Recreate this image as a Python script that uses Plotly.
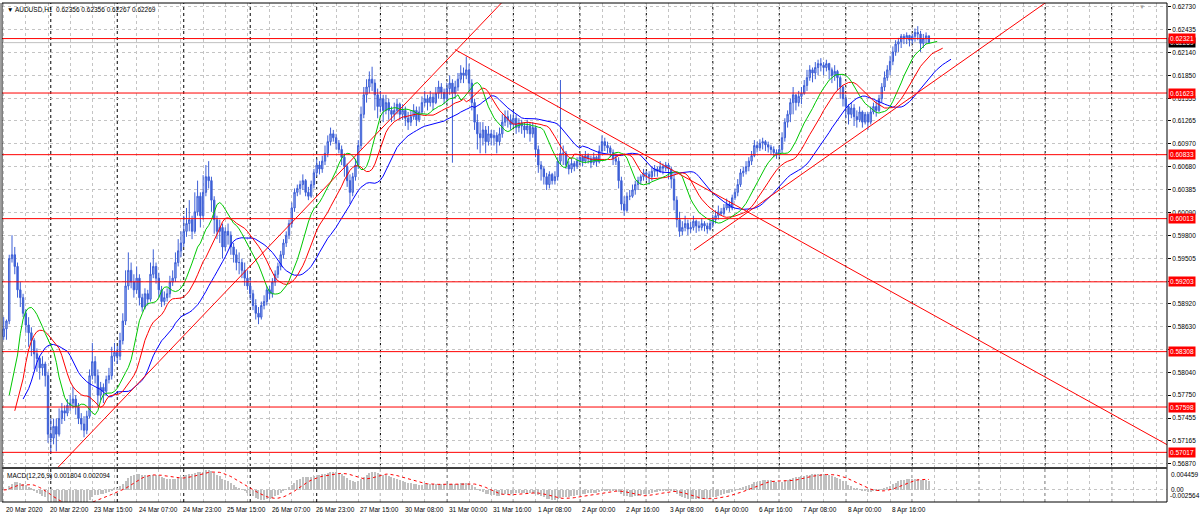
import plotly.graph_objects as go

# ---------------- data ----------------
symbol_title = "AUDUSD,H1\u00a0\u00a00.62356 0.62356 0.62267 0.62269"
macd_title = "MACD(12,26,9) 0.001804 0.002094"

# hourly bars, prices in pips (1 pip = 0.0001)
first_open_pips = 5850
high_pips = [
    5875,5872,5955,5980,5965,5945,5920,5905,5885,5875,
    5862,5848,5835,5825,5825,5818,5805,5745,5745,5745,
    5758,5765,5762,5770,5775,5786,5775,5765,5752,5748,
    5755,5808,5842,5825,5808,5792,5790,5800,5810,5837,
    5842,5838,5855,5880,5935,5958,5945,5930,5940,5930,
    5905,5912,5910,5945,5962,5945,5932,5915,5908,5912,
    5928,5935,5958,5975,5985,6005,6015,6025,6005,6035,
    6050,6035,6057,6070,6075,6055,6030,6005,6000,5995,
    5990,5995,5985,5970,5962,5958,5950,5945,5935,5925,
    5910,5898,5888,5895,5903,5915,5915,5925,5935,5945,
    5960,5975,5985,6000,6022,6040,6045,6050,6058,6052,
    6042,6050,6065,6078,6075,6082,6095,6108,6118,6115,
    6110,6102,6095,6085,6072,6058,6060,6078,6102,6145,
    6170,6180,6190,6196,6180,6168,6165,6160,6160,6155,
    6145,6150,6155,6150,6148,6145,6138,6140,6148,6145,
    6145,6158,6165,6160,6165,6162,6170,6178,6175,6168,
    6175,6185,6180,6178,6188,6198,6195,6209,6200,6180,
    6155,6135,6125,6125,6120,6120,6115,6115,6112,6118,
    6135,6140,6140,6135,6140,6135,6130,6128,6125,6128,
    6125,6125,6120,6095,6075,6068,6060,6062,6060,6062,
    6080,6179,6095,6088,6075,6078,6075,6080,6085,6083,
    6088,6085,6082,6086,6082,6095,6108,6105,6100,6095,
    6090,6085,6080,6055,6030,6035,6038,6045,6050,6055,
    6058,6065,6062,6062,6068,6070,6068,6075,6072,6074,
    6073,6068,6058,6030,6010,5998,6005,6000,5997,6005,
    6000,5998,6002,5998,5996,6000,6006,6012,6018,6015,
    6020,6027,6024,6032,6040,6052,6065,6068,6075,6080,
    6088,6102,6100,6103,6105,6102,6100,6096,6094,6090,
    6095,6112,6130,6140,6155,6170,6160,6165,6170,6179,
    6192,6198,6195,6202,6205,6207,6202,6205,6201,6195,
    6198,6192,6185,6172,6160,6148,6150,6148,6140,6145,
    6140,6138,6138,6145,6150,6152,6160,6175,6190,6198,
    6210,6222,6230,6233,6238,6238,6240,6237,6238,6245,
    6248,6242,6238,6240,6235.6,
]
low_pips = [
    5846,5846,5866,5945,5930,5900,5888,5875,5855,5837,
    5825,5808,5805,5795,5800,5786,5714,5701,5712,5703,
    5722,5738,5742,5748,5755,5758,5750,5738,5730,5721,
    5725,5745,5795,5790,5760,5768,5765,5775,5790,5795,
    5818,5815,5820,5840,5865,5910,5912,5900,5905,5890,
    5882,5885,5890,5895,5925,5918,5900,5888,5890,5895,
    5900,5915,5920,5940,5952,5965,5978,5985,5975,5982,
    6005,5990,6000,6030,6040,6010,5982,5975,5970,5950,
    5960,5968,5955,5945,5935,5930,5925,5915,5910,5897,
    5884,5872,5866,5872,5885,5890,5898,5900,5915,5925,
    5935,5950,5965,5975,5990,6010,6030,6032,6038,6030,
    6025,6028,6040,6055,6058,6060,6070,6080,6095,6100,
    6090,6085,6070,6055,6042,6020,6030,6050,6065,6090,
    6130,6150,6162,6165,6140,6130,6138,6125,6135,6128,
    6125,6128,6135,6128,6128,6120,6115,6120,6128,6120,
    6125,6135,6145,6140,6145,6140,6148,6155,6155,6148,
    6150,6160,6073,6155,6165,6175,6175,6180,6162,6140,
    6115,6090,6085,6095,6085,6095,6095,6095,6085,6095,
    6105,6120,6118,6115,6118,6110,6112,6110,6105,6110,
    6100,6105,6080,6060,6050,6045,6038,6040,6045,6045,
    6050,6070,6070,6065,6058,6060,6062,6065,6070,6068,
    6072,6072,6066,6070,6068,6072,6085,6088,6085,6080,
    6070,6070,6040,6012,6005,6010,6025,6028,6032,6038,
    6045,6050,6050,6045,6050,6055,6055,6060,6058,6062,
    6052,6040,6012,5990,5978,5980,5985,5980,5983,5986,
    5983,5985,5986,5985,5982,5986,5990,5995,6000,6005,
    6005,6012,6010,6012,6025,6030,6042,6055,6058,6062,
    6070,6080,6086,6088,6090,6088,6086,6083,6080,6078,
    6080,6085,6100,6118,6125,6135,6140,6145,6148,6160,
    6165,6178,6176,6180,6185,6190,6185,6190,6180,6175,
    6178,6166,6155,6145,6130,6122,6130,6120,6118,6125,
    6118,6122,6115,6122,6135,6132,6138,6150,6165,6178,
    6185,6198,6210,6215,6220,6225,6225,6222,6225,6228,
    6230,6215,6220,6225,6226.7,
]
close_pips = [
    5860,5870,5950,5955,5940,5910,5900,5880,5865,5855,
    5845,5828,5822,5810,5815,5800,5725,5720,5735,5725,
    5745,5755,5752,5762,5765,5770,5760,5745,5738,5730,
    5748,5800,5818,5800,5775,5785,5780,5795,5800,5825,
    5830,5825,5845,5870,5915,5935,5920,5910,5925,5900,
    5888,5905,5898,5930,5940,5925,5910,5895,5900,5905,
    5920,5925,5945,5960,5970,5985,5995,6000,5985,6010,
    6030,6005,6035,6055,6050,6025,6000,5985,5990,5965,
    5985,5980,5965,5955,5945,5945,5935,5925,5915,5905,
    5890,5880,5875,5890,5895,5910,5905,5920,5930,5940,
    5955,5970,5980,5995,6015,6035,6040,6045,6050,6035,
    6030,6045,6060,6070,6065,6075,6085,6100,6110,6105,
    6098,6090,6080,6068,6050,6035,6055,6070,6095,6135,
    6160,6170,6180,6175,6160,6145,6155,6140,6150,6140,
    6135,6140,6148,6135,6140,6130,6125,6132,6140,6128,
    6138,6150,6155,6150,6157,6150,6162,6170,6163,6155,
    6168,6175,6162,6170,6180,6188,6185,6192,6175,6150,
    6125,6110,6105,6115,6100,6110,6105,6108,6100,6110,
    6125,6132,6128,6122,6130,6118,6124,6120,6115,6120,
    6110,6118,6090,6070,6065,6055,6045,6058,6050,6055,
    6075,6085,6085,6070,6065,6072,6068,6075,6080,6075,
    6082,6078,6073,6080,6074,6088,6100,6095,6092,6086,
    6078,6075,6050,6020,6012,6030,6030,6038,6045,6050,
    6055,6060,6058,6055,6062,6065,6062,6068,6066,6070,
    6065,6052,6025,6000,5985,5990,5995,5988,5990,5998,
    5992,5990,5995,5992,5988,5995,6000,6005,6010,6008,
    6015,6020,6015,6028,6035,6045,6060,6062,6068,6075,
    6082,6095,6092,6098,6100,6096,6093,6090,6086,6083,
    6090,6105,6125,6135,6150,6160,6150,6158,6162,6172,
    6182,6192,6188,6195,6200,6198,6195,6200,6192,6185,
    6190,6182,6170,6155,6145,6135,6143,6132,6128,6138,
    6125,6135,6125,6138,6145,6140,6155,6170,6182,6192,
    6203,6215,6225,6228,6235,6232,6236,6230,6235,6240,
    6238,6226,6232,6235.6,6226.9,
]

date_labels = ["20 Mar 2020", "20 Mar 22:00", "23 Mar 15:00", "24 Mar 07:00",
               "24 Mar 23:00", "25 Mar 15:00", "26 Mar 07:00", "26 Mar 23:00",
               "27 Mar 15:00", "30 Mar 08:00", "31 Mar 00:00", "31 Mar 16:00",
               "1 Apr 08:00", "2 Apr 00:00", "2 Apr 16:00", "3 Apr 08:00",
               "6 Apr 00:00", "6 Apr 16:00", "7 Apr 08:00", "8 Apr 00:00",
               "8 Apr 16:00"]
date_label_bars = [0, 16, 32, 48, 64, 80, 96, 112, 128, 144, 160, 176, 192,
                   208, 224, 240, 256, 272, 288, 304, 320]
day_start_bars = [17, 41, 65, 89, 113, 136, 160, 184, 208, 232, 256, 280,
                  304, 328, 352, 376, 400]
grid_bars = list(range(0, 420, 8))
shift_marker_bar = 411

price_ticks = [0.62730, 0.62435, 0.62140, 0.61850, 0.61555, 0.61265, 0.60970,
               0.60680, 0.60385, 0.60090, 0.59800, 0.59505, 0.59210, 0.58920,
               0.58630, 0.58335, 0.58040, 0.57750, 0.57455, 0.57165, 0.56870]
# tick labels that sit completely under a level label are not visible
hidden_ticks = [0.59210, 0.58335]
level_prices = [0.62321, 0.61623, 0.60833, 0.60013, 0.59203, 0.58308,
                0.57598, 0.57017]
bid_price = 0.62269
macd_scale_labels = [0.004459, 0.0, -0.002564]

# trend lines: (bar, price) anchors
trend_rising_1 = [(22.1, 0.56918), (163.5, 0.62175)]
trend_falling = [(162.9, 0.62181), (419.6, 0.57123)]
trend_rising_2 = [(249.2, 0.59611), (323.6, 0.61469)]

# Alligator (SMMA of median price): period, shift, starting value
alligator = [
    ("jaw", 13, 8, 0.5770, "#0000ff"),
    ("teeth", 8, 5, 0.5755, "#ff0000"),
    ("lips", 5, 3, 0.5775, "#00c800"),
]

# ---------------- derived series ----------------
PIP = 1e-4
close = [v * PIP for v in close_pips]
opens = [first_open_pips * PIP] + close[:-1]
high = [max(h * PIP, o, c) for h, o, c in zip(high_pips, opens, close)]
low = [min(l * PIP, o, c) for l, o, c in zip(low_pips, opens, close)]
n = len(close)
bars = list(range(n))
median = [(h + l) / 2 for h, l in zip(high, low)]


def smma(vals, period, seed):
    out, prev = [], seed
    for v in vals:
        prev = (prev * (period - 1) + v) / period
        out.append(prev)
    return out


def ema(vals, period):
    k = 2.0 / (period + 1)
    out = [vals[0]]
    for v in vals[1:]:
        out.append(out[-1] + k * (v - out[-1]))
    return out


macd = [a - b for a, b in zip(ema(close, 12), ema(close, 26))]
signal = []
for i in range(n):
    win = macd[max(0, i - 8): i + 1]
    signal.append(sum(win) / len(win))

# ---------------- figure ----------------
FONT = "Liberation Sans, Arial, sans-serif"
FS = 6.5
x_view = [-0.61, 419.97]
y_view = [0.56829, 0.62777]
macd_view = [-0.002564, 0.004459]
BLUE = "#3d5fd6"

fig = go.Figure()
fig.add_trace(go.Candlestick(
    x=bars, open=opens, high=high, low=low, close=close,
    increasing=dict(line=dict(color=BLUE, width=1), fillcolor="#a3b7f0"),
    decreasing=dict(line=dict(color=BLUE, width=1), fillcolor=BLUE),
    whiskerwidth=0, hoverinfo="skip", xaxis="x", yaxis="y"))

for name, period, shift, seed, color in alligator:
    vals = [seed] + smma(median, period, seed)
    xs = [b + shift for b in range(-1, n)]
    fig.add_trace(go.Scatter(x=xs, y=vals, mode="lines", name=name,
                             line=dict(color=color, width=1),
                             hoverinfo="skip", xaxis="x", yaxis="y"))

fig.add_trace(go.Bar(x=bars, y=macd, marker=dict(color="#c0c0c0", line=dict(width=0)),
                     width=0.4, hoverinfo="skip", xaxis="x2", yaxis="y2"))
fig.add_trace(go.Scatter(x=bars, y=signal, mode="lines",
                         line=dict(color="#ff0000", width=1, dash="dot"),
                         hoverinfo="skip", xaxis="x2", yaxis="y2"))

grid = dict(showgrid=True, gridcolor="#c4c4c4", griddash="dot", gridwidth=1,
            zeroline=False)
tick_text = ["" if v in hidden_ticks else f"{v:.5f}" for v in price_ticks]
fig.update_layout(
    width=1200, height=518, autosize=False,
    margin=dict(l=2, r=33, t=3, b=16),
    paper_bgcolor="white", plot_bgcolor="white", showlegend=False,
    font=dict(family=FONT, size=FS, color="black"),
    bargap=0,
    xaxis=dict(domain=[0, 1], range=x_view, anchor="y", tickvals=grid_bars,
               showticklabels=False, ticks="", rangeslider=dict(visible=False),
               fixedrange=True, **grid),
    yaxis=dict(domain=[0.0701, 1], range=y_view, side="right", anchor="x",
               tickvals=price_ticks, ticktext=tick_text,
               ticks="outside", ticklen=3, tickcolor="black",
               tickfont=dict(size=FS), fixedrange=True, **grid),
    xaxis2=dict(domain=[0, 1], range=x_view, anchor="y2", tickvals=grid_bars,
                showticklabels=False, ticks="", fixedrange=True, **grid),
    yaxis2=dict(domain=[0, 0.0661], range=macd_view, side="right", anchor="x2",
                tickvals=[0.0], showticklabels=False, ticks="",
                fixedrange=True, **grid),
)

shapes = []
for b in day_start_bars:
    shapes.append(dict(type="line", xref="x", yref="paper", x0=b, x1=b, y0=0, y1=1,
                       line=dict(color="#000000", width=1, dash="3px,3px"), layer="below"))
for p in level_prices:
    shapes.append(dict(type="line", xref="paper", yref="y", x0=0, x1=1, y0=p, y1=p,
                       line=dict(color="#ff0000", width=1), layer="above"))
shapes.append(dict(type="line", xref="paper", yref="y", x0=0, x1=1, y0=bid_price,
                   y1=bid_price, line=dict(color="#c0c0c0", width=1), layer="below"))


def extend(anchors, x_from, x_to):
    (xa, ya), (xb, yb) = anchors
    k = (yb - ya) / (xb - xa)
    return dict(x0=x_from, y0=ya + k * (x_from - xa), x1=x_to, y1=ya + k * (x_to - xa))


for anchors, start in [(trend_rising_1, x_view[0]), (trend_falling, trend_falling[0][0]),
                       (trend_rising_2, trend_rising_2[0][0])]:
    seg = extend(anchors, start, x_view[1])
    shapes.append(dict(type="line", xref="x", yref="y", line=dict(color="#ff0000", width=1),
                       layer="above", **seg))

# panel frames
shapes.append(dict(type="rect", xref="paper", yref="paper", x0=0, x1=1, y0=0, y1=1,
                   line=dict(color="#000000", width=1)))
shapes.append(dict(type="line", xref="paper", yref="paper", x0=0, x1=1, y0=0.0681, y1=0.0681,
                   line=dict(color="#404040", width=2)))
shapes.append(dict(type="line", xref="paper", yref="paper", x0=-0.0012, x1=-0.0012, y0=0, y1=1,
                   line=dict(color="#a0a0a0", width=2)))
fig.update_layout(shapes=shapes)

ann = []
ann.append(dict(xref="paper", yref="paper", x=0, y=1, xanchor="left", yanchor="top",
                xshift=3, yshift=-1, showarrow=False, text="\u25bc " + symbol_title,
                font=dict(size=FS)))
ann.append(dict(xref="x", yref="paper", x=shift_marker_bar, y=1, xanchor="center",
                yanchor="top", yshift=1, showarrow=False, text="\u25bc",
                font=dict(size=6, color="#a0a0a0")))
ann.append(dict(xref="paper", yref="paper", x=0, y=0.0661, xanchor="left", yanchor="top",
                xshift=3, yshift=-1, showarrow=False, text=macd_title, font=dict(size=FS)))
for b, t in zip(date_label_bars, date_labels):
    ann.append(dict(xref="x2", yref="paper", x=b, y=0, xanchor="left", yanchor="top",
                    xshift=0, yshift=-2, showarrow=False, text=t, font=dict(size=FS)))
ann.append(dict(xref="paper", yref="y", x=1, y=bid_price, xanchor="left", yanchor="middle",
                xshift=1, showarrow=False, text=f"{bid_price:.5f}", bgcolor="#000000",
                borderpad=1, font=dict(size=FS, color="white")))
for p in level_prices:
    ann.append(dict(xref="paper", yref="y", x=1, y=p, xanchor="left", yanchor="middle",
                    xshift=1, showarrow=False, text=f"{p:.5f}", bgcolor="#ff0000",
                    borderpad=1, font=dict(size=FS, color="white")))
ann.append(dict(xref="paper", yref="y2", x=1, y=macd_scale_labels[0], xanchor="left",
                yanchor="top", xshift=2, yshift=0, showarrow=False,
                text=f"{macd_scale_labels[0]:.6f}", font=dict(size=FS)))
ann.append(dict(xref="paper", yref="y2", x=1, y=macd_scale_labels[1], xanchor="left",
                yanchor="middle", xshift=2, showarrow=False, text="0.00", font=dict(size=FS)))
ann.append(dict(xref="paper", yref="y2", x=1, y=macd_scale_labels[2], xanchor="left",
                yanchor="bottom", xshift=1, yshift=1, showarrow=False,
                text=f"{macd_scale_labels[2]:.6f}", font=dict(size=FS)))
fig.update_layout(annotations=ann)

fig.write_html("out.html", config={"displayModeBar": False},
               post_script="document.body.style.margin='0';document.body.style.overflow='hidden';")
